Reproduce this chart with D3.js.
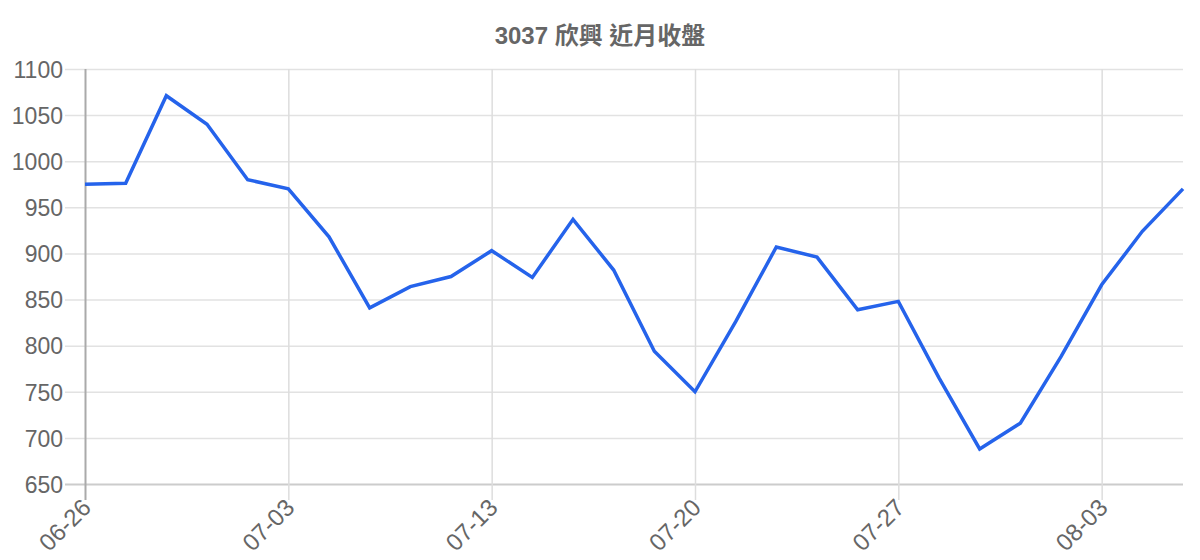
<!DOCTYPE html>
<html>
<head>
<meta charset="utf-8">
<script src="https://cdn.jsdelivr.net/npm/d3@7"></script>
<style>
  body { margin: 0; background: #fff; }
  .chart text { font-family: "Liberation Sans", Arial, sans-serif; fill: #666; }
</style>
</head>
<body>
<div class="chart"></div>
<script>
var svgWidth = 1200;
var svgHeight = 560;

var margin = { top: 69, right: 17, bottom: 76, left: 85 };

var width = svgWidth - margin.left - margin.right;
var height = svgHeight - margin.top - margin.bottom;

// trading days, every 5th one gets a label
var dates = ["06-26", "06-27", "06-30", "07-01", "07-02", "07-03", "07-06", "07-07",
  "07-08", "07-09", "07-13", "07-14", "07-15", "07-16", "07-17", "07-20", "07-21",
  "07-22", "07-23", "07-24", "07-27", "07-28", "07-29", "07-30", "07-31", "08-03",
  "08-04", "08-05"];
var closes = [975, 976, 1071, 1040, 980, 970, 918, 841, 864, 875, 903, 874, 937, 882,
  794, 750, 826, 907, 896, 839, 848, 765, 688, 716, 788, 866, 924, 970];
var yTicks = [650, 700, 750, 800, 850, 900, 950, 1000, 1050, 1100];

var svg = d3.select(".chart")
  .append("svg")
  .attr("width", svgWidth)
  .attr("height", svgHeight);

svg.append("text")
  .attr("x", svgWidth / 2)
  .attr("y", 44)
  .attr("text-anchor", "middle")
  .style("font-size", "24px")
  .style("font-weight", "bold")
  .style("font-family", "'Liberation Sans', 'Noto Sans CJK TC', sans-serif")
  .text("3037 欣興 近月收盤");

var g = svg.append("g")
  .attr("transform", "translate(" + margin.left + "," + margin.top + ")");

var x = d3.scalePoint()
  .domain(dates)
  .range([0, width]);

var y = d3.scaleLinear()
  .domain([650, 1100])
  .range([height, 0]);

// horizontal grid + y labels
var yAxis = g.append("g")
  .call(d3.axisLeft(y).tickValues(yTicks).tickFormat(d3.format("d")));
yAxis.select(".domain").remove();
yAxis.selectAll(".tick line")
  .attr("x1", -20)
  .attr("x2", width)
  .attr("stroke", function(d) { return d == 650 ? "#ccc" : "#e2e2e2"; })
  .attr("stroke-width", function(d) { return d == 650 ? 2 : 1.5; });
yAxis.selectAll(".tick text")
  .attr("x", -22)
  .attr("dy", "0.36em")
  .style("font-size", "23px");

// vertical grid + rotated date labels
var shown = dates.filter(function(d, i) { return i % 5 == 0; });
var xAxis = g.append("g")
  .attr("transform", "translate(0," + height + ")")
  .call(d3.axisBottom(x).tickValues(shown).tickSize(0));
xAxis.select(".domain").remove();
xAxis.selectAll(".tick line")
  .attr("y1", -height)
  .attr("y2", 16)
  .attr("stroke", function(d) { return d == dates[0] ? "#aaa" : "#ddd"; })
  .attr("stroke-width", function(d) { return d == dates[0] ? 2 : 1.5; });
xAxis.selectAll(".tick text")
  .attr("y", 0)
  .attr("dy", 0)
  .attr("text-anchor", "end")
  .attr("transform", "translate(7,25) rotate(-45)")
  .style("font-size", "24px");

var lineFunc = d3.line()
  .x(function(d, i) { return x(dates[i]); })
  .y(function(d) { return y(d); });

g.append("path")
  .attr("d", lineFunc(closes))
  .attr("stroke", "#2563eb")
  .attr("stroke-width", 3.5)
  .attr("stroke-linejoin", "miter")
  .attr("fill", "none");
</script>
</body>
</html>
